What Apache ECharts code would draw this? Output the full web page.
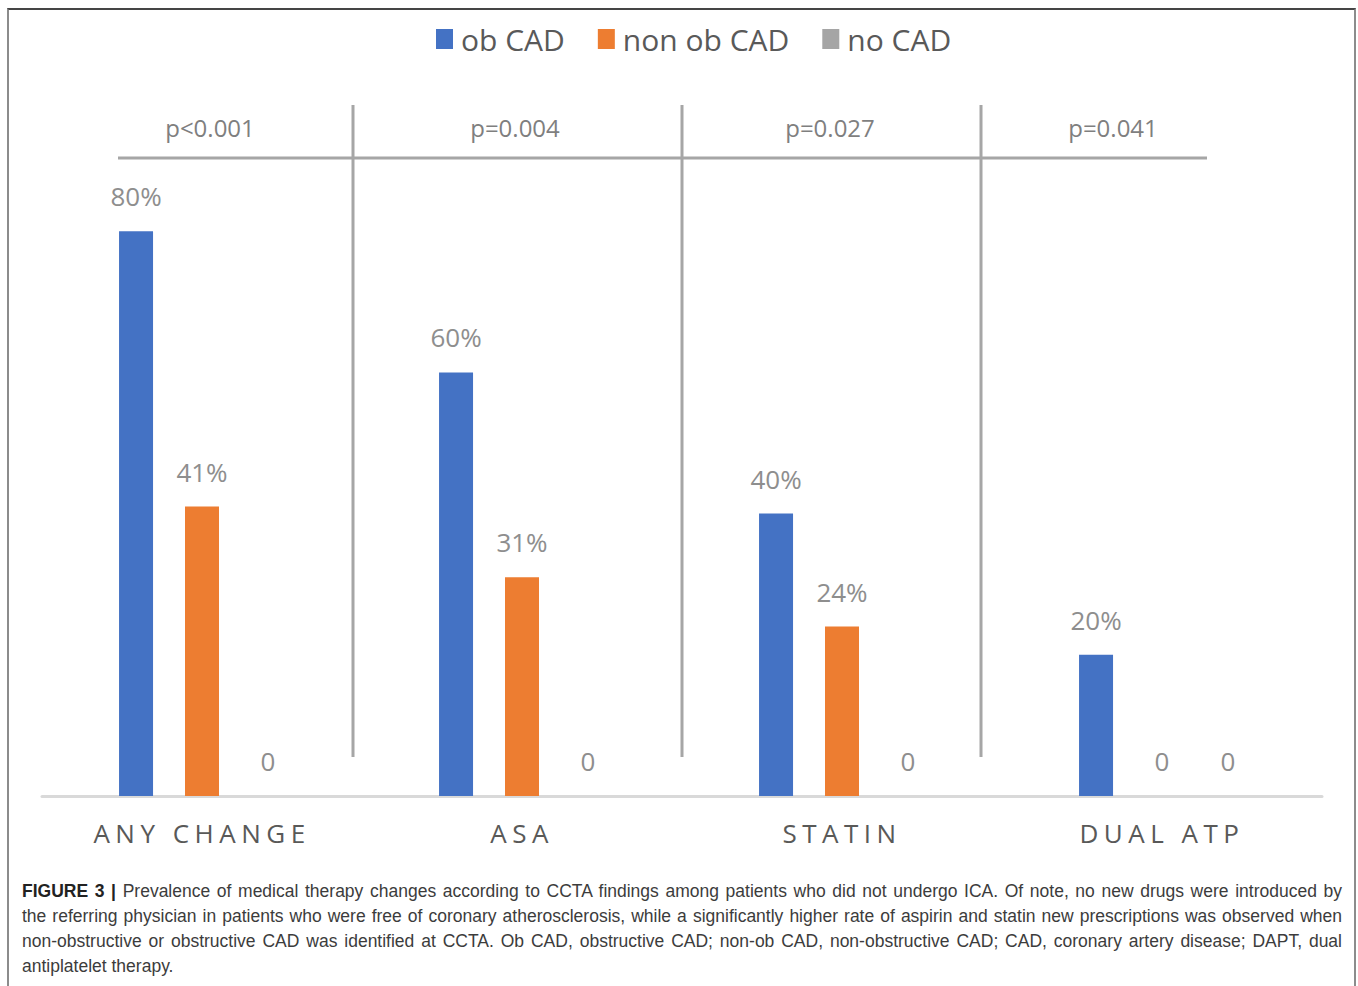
<!DOCTYPE html>
<html>
<head>
<meta charset="utf-8">
<script src="https://cdn.jsdelivr.net/npm/echarts@6/dist/echarts.min.js"></script>
<style>
  html, body { margin: 0; padding: 0; background: #fff; }
  #main { position: absolute; left: 0; top: 0; width: 1358px; height: 986px; }
  #frame {
    position: absolute; left: 7px; top: 8px; width: 1345px; height: 990px;
    border-top: 2px solid #454545; border-left: 2px solid #8c8c8c; border-right: 2px solid #8c8c8c;
    pointer-events: none;
  }
  #caption {
    position: absolute; left: 22px; top: 879px; width: 1320px;
    font-family: "Liberation Sans", Arial, sans-serif;
    font-size: 17.5px; line-height: 25px; color: #3c3c3c;
  }
  #caption div { text-align: justify; text-align-last: justify; white-space: nowrap; }
  #caption div.last { text-align-last: left; }
  #caption b { color: #222; }
  /* 横轴标签字距加宽 */
  #main text[fill="#595958"], #main text[fill="rgb(89,89,88)"] { letter-spacing: 5.5px; }
</style>
</head>
<body>
<div id="main"></div>
<div id="frame"></div>
<div id="caption">
  <div><b>FIGURE 3 |</b> Prevalence of medical therapy changes according to CCTA findings among patients who did not undergo ICA. Of note, no new drugs were introduced by</div>
  <div>the referring physician in patients who were free of coronary atherosclerosis, while a significantly higher rate of aspirin and statin new prescriptions was observed when</div>
  <div>non-obstructive or obstructive CAD was identified at CCTA. Ob CAD, obstructive CAD; non-ob CAD, non-obstructive CAD; CAD, coronary artery disease; DAPT, dual</div>
  <div class="last">antiplatelet therapy.</div>
</div>
<script>
// 数据
const categories = ['ANY CHANGE', 'ASA', 'STATIN', 'DUAL ATP'];
const seriesNames = ['ob CAD', 'non ob CAD', 'no CAD'];
const obCad = [80, 60, 40, 20];
const nonObCad = [41, 31, 24, 0];
const noCad = [0, 0, 0, 0];
const pValues = ['p<0.001', 'p=0.004', 'p=0.027', 'p=0.041'];

const colors = ['#4472C4', '#ED7D31', '#A5A5A5'];
const font = '"Open Sans", "Noto Sans", sans-serif';

var chart = echarts.init(document.getElementById('main'), null, { renderer: 'svg' });

// p值标注的位置（分隔线和文字）
const pLabelX = [210, 515, 830, 1113];
const dividerX = [353, 682, 981];

var graphics = [];
graphics.push({
  type: 'line',
  shape: { x1: 118, y1: 158, x2: 1207, y2: 158 },
  style: { stroke: '#A6A6A6', lineWidth: 3 },
  silent: true
});
dividerX.forEach(function (x) {
  graphics.push({
    type: 'line',
    shape: { x1: x, y1: 105, x2: x, y2: 757 },
    style: { stroke: '#A6A6A6', lineWidth: 3 },
    silent: true
  });
});
pValues.forEach(function (p, i) {
  graphics.push({
    type: 'text',
    x: pLabelX[i],
    y: 127,
    style: {
      text: p,
      fill: '#7F7F7F',
      font: '24px ' + font,
      textAlign: 'center',
      textVerticalAlign: 'middle'
    },
    silent: true
  });
});

function makeSeries(name, data, color) {
  return {
    name: name,
    type: 'bar',
    data: data,
    barWidth: 34,
    barGap: '94%',
    itemStyle: { color: color },
    label: {
      show: true,
      position: 'top',
      distance: 22,
      fontSize: 26,
      fontFamily: font,
      color: '#8E8E8E',
      formatter: function (p) {
        return p.value === 0 ? '0' : p.value + '%';
      }
    },
    silent: true
  };
}

var option = {
  animation: false,
  backgroundColor: '#fff',
  legend: {
    top: 19,
    left: 431,
    itemWidth: 17,
    itemHeight: 20,
    itemGap: 33,
    icon: 'rect',
    textStyle: { fontSize: 30, fontFamily: font, color: '#595959', padding: [0, 0, 0, 3] },
    data: seriesNames
  },
  grid: { left: 42, right: 36, top: 90, bottom: 190 },
  xAxis: {
    type: 'category',
    data: categories,
    axisLine: { show: true, lineStyle: { color: '#D9D9D9', width: 3 } },
    axisTick: { show: false },
    axisLabel: {
      interval: 0,
      margin: 24,
      fontSize: 26,
      fontFamily: font,
      color: '#595958'
    }
  },
  yAxis: {
    type: 'value',
    min: 0,
    max: 100,
    show: false,
    splitLine: { show: false }
  },
  series: [
    makeSeries(seriesNames[0], obCad, colors[0]),
    makeSeries(seriesNames[1], nonObCad, colors[1]),
    makeSeries(seriesNames[2], noCad, colors[2])
  ],
  graphic: graphics
};

chart.setOption(option);
</script>
</body>
</html>
